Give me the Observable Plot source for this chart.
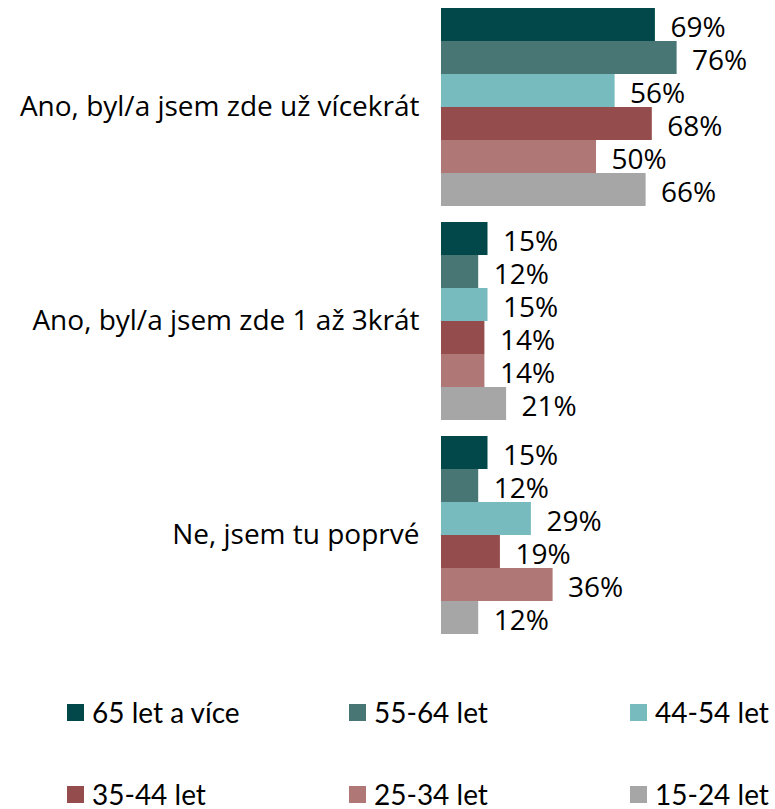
<!DOCTYPE html>
<html>
<head>
<meta charset="utf-8">
<script src="https://cdn.jsdelivr.net/npm/d3@7"></script>
<script src="https://cdn.jsdelivr.net/npm/@observablehq/plot@0.6"></script>
<style>
  body { margin: 0; background: #fff; overflow: hidden; }
  #chart { width: 775px; }
  #legend { position: relative; width: 775px; height: 159px; font-family: Lato, sans-serif; font-size: 28px; line-height: 24px; color: #000; }
  .item { position: absolute; display: flex; align-items: center; white-space: nowrap; height: 24px; }
  .sw { width: 17px; height: 17px; margin-right: 8px; }
</style>
</head>
<body>
<div id="chart"></div>
<div id="legend"></div>
<script>
const categories = ["Ano, byl/a jsem zde už vícekrát", "Ano, byl/a jsem zde 1 až 3krát", "Ne, jsem tu poprvé"];
const series = ["65 let a více", "55-64 let", "44-54 let", "35-44 let", "25-34 let", "15-24 let"];
const colors = ["#02484B", "#477674", "#78BBBF", "#954C4C", "#B07777", "#A6A6A6"];
const v65 = [69, 15, 15];
const v55 = [76, 12, 12];
const v44 = [56, 15, 29];
const v35 = [68, 14, 19];
const v25 = [50, 14, 36];
const v15 = [66, 21, 12];
const seriesValues = [v65, v55, v44, v35, v25, v15];

const data = [];
categories.forEach((c, i) => series.forEach((s, j) => data.push({category: c, series: s, value: seriesValues[j][i]})));

const plot = Plot.plot({
  width: 775,
  height: 650,
  marginLeft: 441,
  marginRight: 24,
  marginTop: 7,
  marginBottom: 14,
  style: {fontFamily: "'Open Sans', sans-serif", color: "#000", background: "#fff"},
  x: {domain: [0, 100], axis: null},
  y: {domain: series, axis: null, paddingInner: 0, paddingOuter: 0},
  fy: {domain: categories, axis: null, paddingInner: 0.074, paddingOuter: 0},
  color: {domain: series, range: colors},
  marks: [
    Plot.barX(data, {x: "value", y: "series", fy: "category", fill: "series"}),
    Plot.text(data, {x: "value", y: "series", fy: "category", text: d => d.value + "%", textAnchor: "start", dx: 15, dy: 3, fontSize: 28, fill: "#000"}),
    Plot.axisFy({anchor: "left", tickSize: 0, tickPadding: 22, fontSize: 28, label: null, fill: "#000"})
  ]
});
document.getElementById("chart").appendChild(plot);

const legend = document.getElementById("legend");
const pos = [[67, 712], [349, 712], [630, 712], [67, 794], [349, 794], [630, 794]];
series.forEach((s, i) => {
  const it = document.createElement("div");
  it.className = "item";
  it.style.left = pos[i][0] + "px";
  it.style.top = (pos[i][1] - 650 - 12) + "px";
  const sw = document.createElement("div");
  sw.className = "sw";
  sw.style.background = colors[i];
  const tx = document.createElement("span");
  tx.textContent = s;
  it.appendChild(sw);
  it.appendChild(tx);
  legend.appendChild(it);
});
</script>
</body>
</html>
